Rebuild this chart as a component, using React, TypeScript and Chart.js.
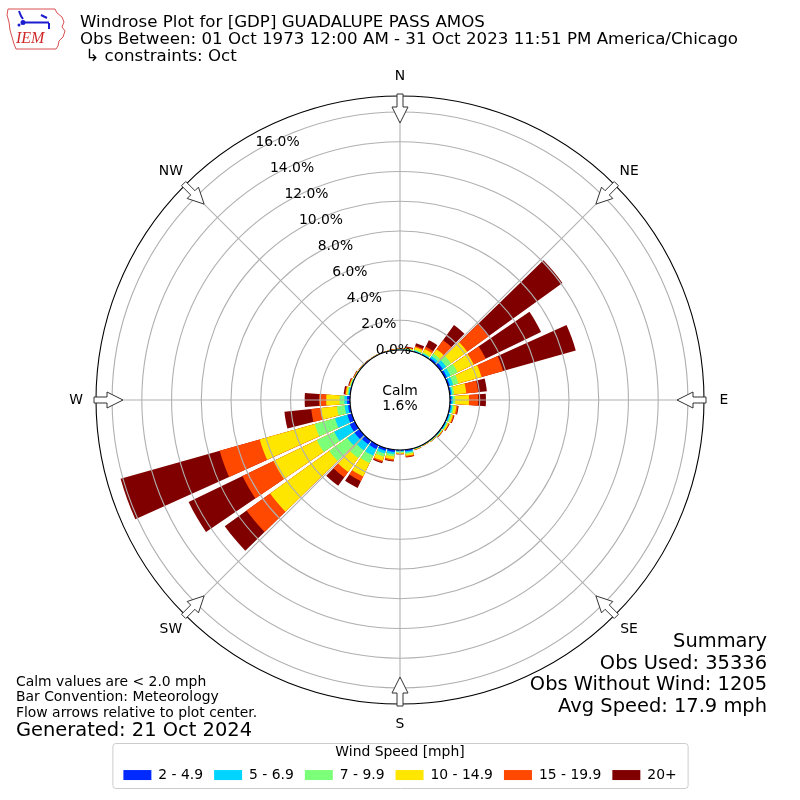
import { useEffect, useRef } from "react";
import { Chart, registerables } from "chart.js";

Chart.register(...registerables);
Chart.defaults.font.family = "'DejaVu Sans', sans-serif";

// wind direction bins (degrees, meteorological)
const directions = [
  0, 10, 20, 30, 40, 50, 60, 70, 80, 90, 100, 110, 120, 130, 140, 150, 160, 170,
  180, 190, 200, 210, 220, 230, 240, 250, 260, 270, 280, 290, 300, 310, 320, 330, 340, 350,
];

const speedLabels = ["2 - 4.9", "5 - 6.9", "7 - 9.9", "10 - 14.9", "15 - 19.9", "20+"];
const speedColors = ["#002aff", "#00d4ff", "#7cff79", "#ffe600", "#ff4800", "#800000"];

// frequency (% of obs) per direction for each speed bin
const speed2to5 = [
  0.02, 0.03, 0.04, 0.05, 0.12, 0.2, 0.15, 0.12, 0.09, 0.1, 0.08, 0.07, 0.06, 0.04, 0.03, 0.02, 0.03, 0.1,
  0.06, 0.15, 0.18, 0.3, 0.3, 0.4, 0.39, 0.31, 0.15, 0.2, 0.05, 0.03, 0.02, 0.01, 0.01, 0.01, 0.01, 0.01,
];
const speed5to7 = [
  0.02, 0.03, 0.05, 0.07, 0.16, 0.27, 0.25, 0.23, 0.09, 0.1, 0.1, 0.08, 0.06, 0.04, 0.02, 0.02, 0.03, 0.1,
  0.06, 0.15, 0.2, 0.5, 0.5, 0.6, 1.16, 0.87, 0.23, 0.18, 0.07, 0.04, 0.02, 0.02, 0.01, 0.01, 0.01, 0.02,
];
const speed7to10 = [
  0.02, 0.04, 0.07, 0.08, 0.22, 0.4, 0.53, 0.37, 0.12, 0.15, 0.1, 0.08, 0.06, 0.04, 0.03, 0.02, 0.03, 0.1,
  0.06, 0.15, 0.22, 0.55, 0.65, 1.5, 1.3, 1.41, 0.52, 0.32, 0.08, 0.04, 0.02, 0.02, 0.02, 0.01, 0.01, 0.01,
];
const speed10to15 = [
  0.03, 0.06, 0.16, 0.25, 0.35, 1.33, 1.21, 1.61, 0.82, 0.93, 0.17, 0.12, 0.09, 0.05, 0.03, 0.02, 0.03, 0.12,
  0.07, 0.2, 0.28, 1.0, 1.15, 4.9, 3.23, 3.85, 1.08, 0.9, 0.1, 0.06, 0.03, 0.02, 0.01, 0.02, 0.02, 0.02,
];
const speed15to20 = [
  0.01, 0.04, 0.1, 0.17, 0.75, 1.75, 0.9, 1.51, 0.8, 0.62, 0.1, 0.07, 0.05, 0.03, 0.01, 0.01, 0.02, 0.07,
  0.03, 0.1, 0.1, 0.35, 0.45, 1.95, 2.32, 2.8, 0.66, 0.48, 0.06, 0.04, 0.03, 0.01, 0.01, 0.01, 0.01, 0.02,
];
const speed20up = [
  0.02, 0.05, 0.18, 0.48, 1.25, 6.15, 4.13, 5.08, 0.59, 0.52, 0.05, 0.03, 0.03, 0.02, 0.01, 0.01, 0.01, 0.04,
  0.02, 0.05, 0.07, 0.5, 0.7, 1.81, 4.02, 6.92, 1.81, 0.97, 0.09, 0.05, 0.03, 0.02, 0.02, 0.01, 0.01, 0.01,
];

const radialTicks = [0, 2, 4, 6, 8, 10, 12, 14, 16];
const compassPoints = ["N", "NE", "E", "SE", "S", "SW", "W", "NW"];
const calmPercent = 1.6;

const headerLines = [
  "Windrose Plot for [GDP] GUADALUPE PASS AMOS",
  "Obs Between: 01 Oct 1973 12:00 AM - 31 Oct 2023 11:51 PM America/Chicago",
  " \u21b3 constraints: Oct",
];
const summaryLines = ["Summary", "Obs Used: 35336", "Obs Without Wind: 1205", "Avg Speed: 17.9 mph"];
const noteLines = [
  "Calm values are < 2.0 mph",
  "Bar Convention: Meteorology",
  "Flow arrows relative to plot center.",
];
const generatedLine = "Generated: 21 Oct 2024";

const R_MIN = -3.36; // leaves room for the calm circle
const R_MAX = 17.08;
const BAR_DEG = 8.5;
const GAP_DEG = 1.5;
const GRID = "#b0b0b0";
const FONT = "'DejaVu Sans', sans-serif";
const DEG = Math.PI / 180;

const speedBins = [speed2to5, speed5to7, speed7to10, speed10to15, speed15to20, speed20up];

// polarArea arcs start at the centre, so each bin is drawn as the running total
// and the smaller totals sit on top (dataset 0 is painted last)
const stacked = speedBins.map((_, k) =>
  directions.map((_, i) => speedBins.slice(0, k + 1).reduce((sum, bin) => sum + bin[i], 0))
);

function drawArrow(ctx: CanvasRenderingContext2D, cx: number, cy: number, rOuter: number, bearing: number) {
  const pts = [
    [rOuter + 2, -3],
    [rOuter - 11, -3],
    [rOuter - 11, -8],
    [rOuter - 27, 0],
    [rOuter - 11, 8],
    [rOuter - 11, 3],
    [rOuter + 2, 3],
  ];
  const s = Math.sin(bearing * DEG);
  const c = Math.cos(bearing * DEG);
  ctx.beginPath();
  pts.forEach(([r, w], i) => {
    const x = cx + r * s + w * c;
    const y = cy - r * c + w * s;
    if (i) ctx.lineTo(x, y);
    else ctx.moveTo(x, y);
  });
  ctx.closePath();
  ctx.fillStyle = "#fff";
  ctx.fill();
  ctx.strokeStyle = "#333";
  ctx.lineWidth = 1;
  ctx.stroke();
}

function drawLogo(ctx: CanvasRenderingContext2D) {
  ctx.save();
  const outline = [
    [8, 9], [55, 9], [57, 13], [62, 17], [64, 22], [62, 27], [65, 31], [63, 37], [59, 41],
    [58, 46], [56, 49], [16, 49], [14, 44], [12, 37], [10, 30], [9, 22], [7, 15],
  ];
  ctx.beginPath();
  outline.forEach(([x, y], i) => (i ? ctx.lineTo(x, y) : ctx.moveTo(x, y)));
  ctx.closePath();
  ctx.strokeStyle = "#d85050";
  ctx.lineWidth = 1;
  ctx.stroke();

  ctx.strokeStyle = "#1c1cd0";
  ctx.fillStyle = "#1c1cd0";
  ctx.lineWidth = 2;
  ctx.beginPath();
  ctx.moveTo(22, 22.5);
  ctx.lineTo(49, 22.5);
  ctx.moveTo(19, 11);
  ctx.lineTo(21, 16);
  ctx.lineTo(23, 19);
  ctx.moveTo(41, 15);
  ctx.lineTo(47, 18);
  ctx.moveTo(49, 23);
  ctx.lineTo(49, 29);
  ctx.stroke();
  ctx.beginPath();
  ctx.arc(23, 22.5, 2.5, 0, Math.PI * 2);
  ctx.arc(19, 25, 1.5, 0, Math.PI * 2);
  ctx.fill();

  ctx.fillStyle = "#d02828";
  ctx.font = "italic 16px 'Liberation Serif', serif";
  ctx.textAlign = "left";
  ctx.textBaseline = "alphabetic";
  ctx.fillText("IEM", 16, 43);
  ctx.restore();
}

const windroseDecor = {
  id: "windroseDecor",
  beforeDraw(chart: any) {
    const lg = chart.legend;
    const boxes = lg && lg.legendHitBoxes;
    if (!boxes || !boxes.length) return;
    const ctx: CanvasRenderingContext2D = chart.ctx;
    const first = boxes[0];
    const last = boxes[boxes.length - 1];
    const left = first.left - 11;
    const right = last.left + last.width + 11;
    const top = lg.top - 2;
    const bottom = lg.bottom - 4;
    ctx.save();
    ctx.strokeStyle = "#cccccc";
    ctx.lineWidth = 1;
    ctx.beginPath();
    ctx.roundRect(left + 0.5, top + 0.5, right - left, bottom - top, 3);
    ctx.stroke();
    ctx.restore();
  },
  afterDatasetsDraw(chart: any) {
    const s = chart.scales.r;
    const ctx: CanvasRenderingContext2D = chart.ctx;
    const cx = s.xCenter;
    const cy = s.yCenter;
    const r0 = s.getDistanceFromCenterForValue(0);
    const rOut = s.drawingArea;
    ctx.save();
    ctx.strokeStyle = GRID;
    ctx.lineWidth = 1.1;
    compassPoints.forEach((_, k) => {
      const a = k * 45 * DEG;
      ctx.beginPath();
      ctx.moveTo(cx + r0 * Math.sin(a), cy - r0 * Math.cos(a));
      ctx.lineTo(cx + rOut * Math.sin(a), cy - rOut * Math.cos(a));
      ctx.stroke();
    });
    ctx.beginPath();
    ctx.arc(cx, cy, r0, 0, Math.PI * 2);
    ctx.fillStyle = "#fff";
    ctx.fill();
    ctx.restore();
  },
  afterDraw(chart: any) {
    const s = chart.scales.r;
    const ctx: CanvasRenderingContext2D = chart.ctx;
    const cx = s.xCenter;
    const cy = s.yCenter;
    const rOut = s.drawingArea;
    ctx.save();
    ctx.fillStyle = "#000";

    // radial tick labels
    ctx.font = `13.9px ${FONT}`;
    ctx.textAlign = "center";
    ctx.textBaseline = "middle";
    const la = 29.1 * DEG;
    radialTicks.forEach((v) => {
      const d = s.getDistanceFromCenterForValue(v);
      ctx.fillText(`${v.toFixed(1)}%`, cx - d * Math.sin(la) + 17.6, cy - d * Math.cos(la) - 6.3);
    });

    // compass arrows and labels
    compassPoints.forEach((name, k) => {
      drawArrow(ctx, cx, cy, rOut, k * 45);
      const a = k * 45 * DEG;
      ctx.fillStyle = "#000";
      ctx.fillText(name, cx + (rOut + 20) * Math.sin(a), cy - (rOut + 20) * Math.cos(a));
    });

    // calm
    ctx.fillText("Calm", cx, cy - 8.3);
    ctx.fillText(`${calmPercent.toFixed(1)}%`, cx, cy + 6.7);

    // header
    ctx.textAlign = "left";
    ctx.textBaseline = "alphabetic";
    ctx.font = `16.67px ${FONT}`;
    headerLines.forEach((t, i) => ctx.fillText(t, 80, 26.5 + i * 17.2));

    // notes
    ctx.font = `13.9px ${FONT}`;
    noteLines.forEach((t, i) => ctx.fillText(t, 16, 685.7 + i * 15.5));
    ctx.font = `19.44px ${FONT}`;
    ctx.fillText(generatedLine, 16, 736);

    // summary
    ctx.textAlign = "right";
    summaryLines.forEach((t, i) => ctx.fillText(t, 767, 647 + i * 21.7));
    ctx.restore();

    drawLogo(ctx);
  },
};

export default function App() {
  const canvasRef = useRef<HTMLCanvasElement>(null);

  useEffect(() => {
    if (!canvasRef.current) return;
    const chart = new Chart(canvasRef.current, {
      type: "polarArea",
      data: {
        labels: directions.flatMap((d) => [`${d}\u00b0`, ""]),
        datasets: speedLabels.map((label, k) => ({
          label,
          data: stacked[k].flatMap((v) => [v, 0]),
          backgroundColor: (c: any) => (c.dataIndex % 2 ? "rgba(0,0,0,0)" : speedColors[k]),
          borderWidth: 0,
          angle: (c: any) => (c.dataIndex % 2 ? GAP_DEG : BAR_DEG),
        })),
      },
      options: {
        responsive: false,
        animation: false,
        layout: { padding: { top: 55, left: 96, right: 96, bottom: 8 } },
        scales: {
          r: {
            min: R_MIN,
            max: R_MAX,
            startAngle: -BAR_DEG / 2,
            ticks: { display: false },
            afterBuildTicks: (scale: any) => {
              scale.ticks = [...radialTicks, R_MAX].map((value) => ({ value }));
            },
            grid: {
              z: 1,
              circular: true,
              lineWidth: 1.1,
              color: (c: any) => (c.tick && (c.tick.value === 0 || c.tick.value === R_MAX) ? "#000" : GRID),
            },
            angleLines: { display: false },
            pointLabels: { display: false },
          },
        },
        plugins: {
          tooltip: { enabled: false },
          legend: {
            position: "bottom",
            title: {
              display: true,
              text: "Wind Speed [mph]",
              color: "#000",
              font: { size: 13.9 },
              padding: { top: 0, bottom: -4.6 },
            },
            labels: {
              color: "#000",
              font: { size: 13.9 },
              boxWidth: 28,
              boxHeight: 10,
              padding: 11,
              generateLabels: (ch: any) =>
                ch.data.datasets.map((ds: any, i: number) => ({
                  text: ds.label,
                  fillStyle: speedColors[i],
                  strokeStyle: speedColors[i],
                  lineWidth: 0,
                  hidden: false,
                  datasetIndex: i,
                })),
            },
          },
        },
      } as any,
      plugins: [windroseDecor],
    });
    return () => chart.destroy();
  }, []);

  return (
    <div style={{ position: "absolute", left: 0, top: 0, width: 800, height: 800, background: "#fff" }}>
      <canvas ref={canvasRef} width={800} height={800} style={{ display: "block" }} />
    </div>
  );
}
